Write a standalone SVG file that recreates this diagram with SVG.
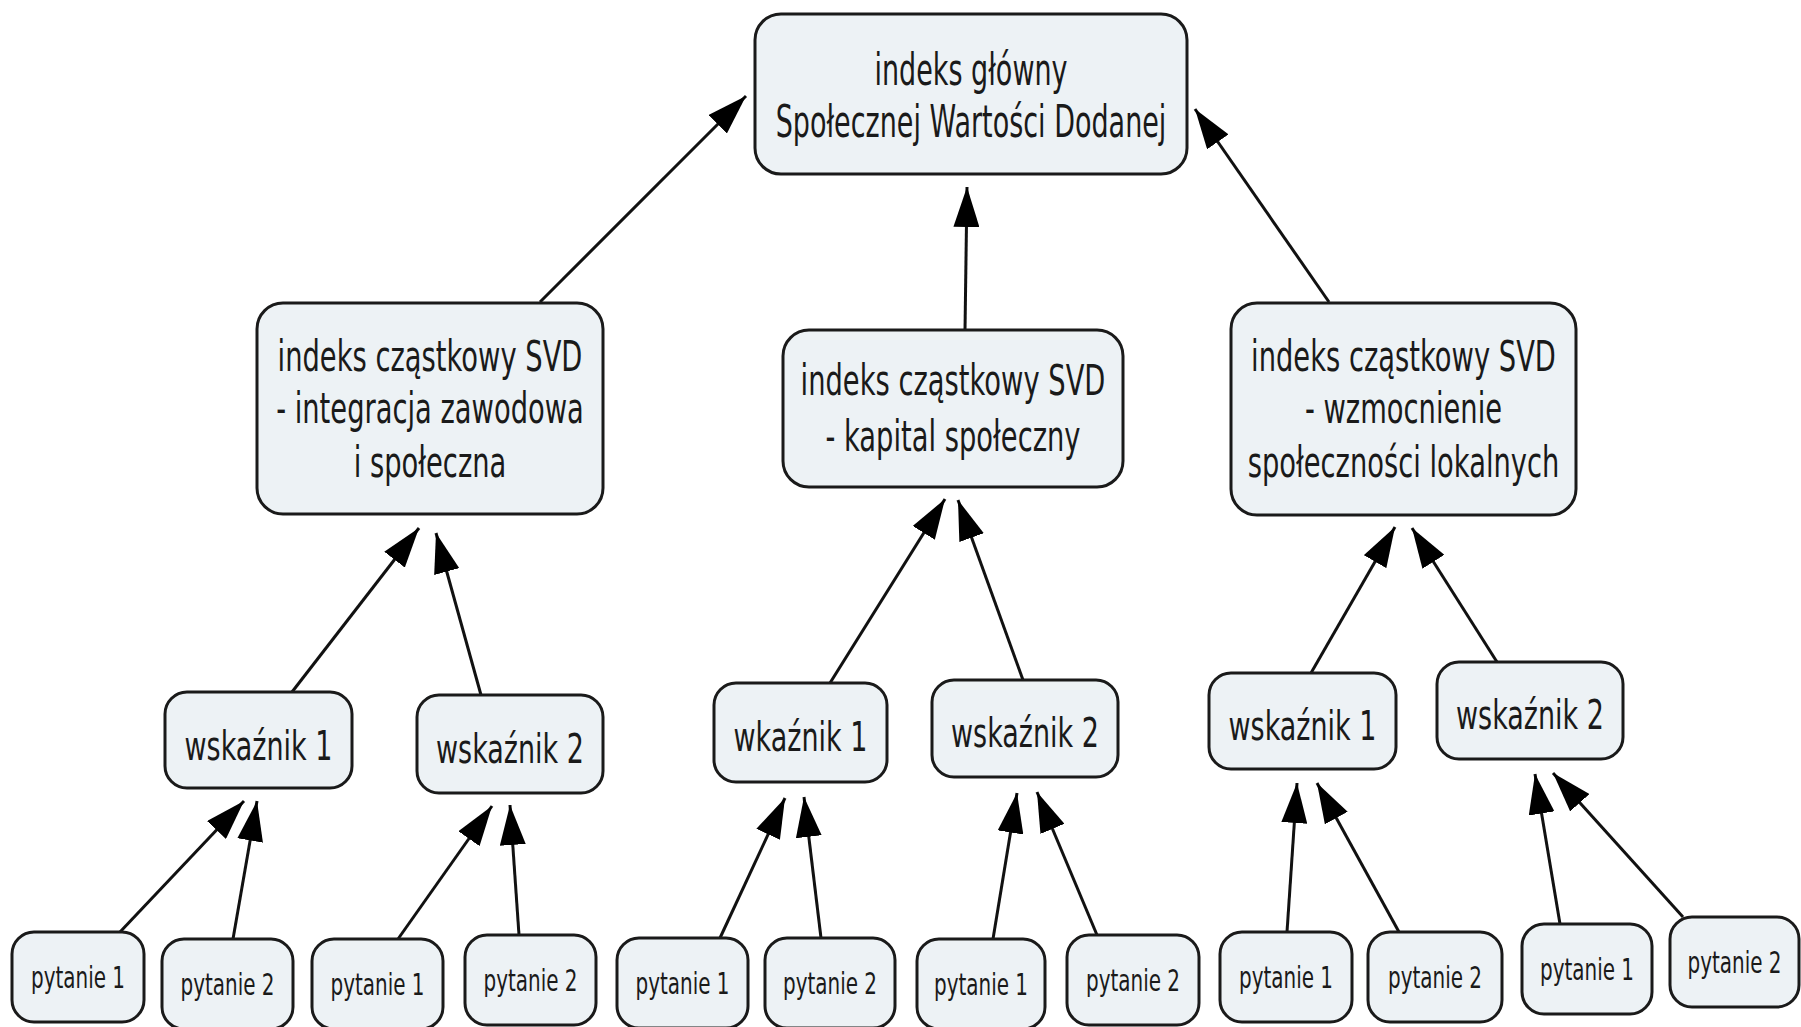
<svg xmlns="http://www.w3.org/2000/svg" width="1801" height="1027" viewBox="0 0 1801 1027">
<defs>
<style>
.box{fill:#edf2f5;stroke:#1a1a1a;stroke-width:3}
.t{font-family:"DejaVu Sans","Verdana",sans-serif;fill:#1a1a1a;text-anchor:middle}
.t40{font-size:45px}.t38{font-size:42px}.t36{font-size:40px}.t27{font-size:30px}
.c{fill:none;stroke:#111;stroke-width:3;marker-end:url(#ah)}
</style>
<marker id="ah" markerUnits="userSpaceOnUse" viewBox="0 0 40 26" refX="40" refY="13" markerWidth="40" markerHeight="26" orient="auto">
<path d="M0,0 L40,13 L0,26 Z" fill="#000"/>
</marker>
</defs>
<rect width="1801" height="1027" fill="#fff"/>

<g id="connectors">
<path class="c" d="M540,302 L746,96"/>
<path class="c" d="M965,331 L967,187"/>
<path class="c" d="M1329,302 L1195,109"/>
<path class="c" d="M292,692 L419,528"/>
<path class="c" d="M481,695 L436,533"/>
<path class="c" d="M830,683 L945,499"/>
<path class="c" d="M1023,680 L958,500"/>
<path class="c" d="M1311,673 L1395,527"/>
<path class="c" d="M1497,662 L1412,528"/>
<path class="c" d="M120,932 L244,801"/>
<path class="c" d="M233,939 L257,801"/>
<path class="c" d="M398,939 L492,806"/>
<path class="c" d="M519,935 L510,805"/>
<path class="c" d="M720,938 L785,798"/>
<path class="c" d="M821,938 L804,797"/>
<path class="c" d="M993,939 L1017,793"/>
<path class="c" d="M1097,935 L1037,792"/>
<path class="c" d="M1287,932 L1297,783"/>
<path class="c" d="M1399,932 L1317,783"/>
<path class="c" d="M1560,924 L1535,774"/>
<path class="c" d="M1683,917 L1553,773"/>
</g>

<g id="top">
<rect class="box" x="755" y="14" width="432" height="160" rx="26"/>
<g transform="translate(971,0) scale(0.6,1)"><text class="t t40" x="0" y="85">indeks główny</text><text class="t t40" x="0" y="137">Społecznej Wartości Dodanej</text></g>
</g>

<g id="mid-left">
<rect class="box" x="257" y="303" width="346" height="211" rx="26"/>
<g transform="translate(430,0) scale(0.651,1)"><text class="t t38" x="0" y="371">indeks cząstkowy SVD</text><text class="t t38" x="0" y="423">- integracja zawodowa</text><text class="t t38" x="0" y="477">i społeczna</text></g>
</g>

<g id="mid-center">
<rect class="box" x="783" y="330" width="340" height="157" rx="26"/>
<g transform="translate(953,0) scale(0.651,1)"><text class="t t38" x="0" y="395">indeks cząstkowy SVD</text><text class="t t38" x="0" y="451">- kapital społeczny</text></g>
</g>

<g id="mid-right">
<rect class="box" x="1231" y="303" width="345" height="212" rx="26"/>
<g transform="translate(1403.5,0) scale(0.651,1)"><text class="t t38" x="0" y="371">indeks cząstkowy SVD</text><text class="t t38" x="0" y="423">- wzmocnienie</text><text class="t t38" x="0" y="477">społeczności lokalnych</text></g>
</g>

<g id="w-l1"><rect class="box" x="165" y="692" width="187" height="96" rx="22"/><g transform="translate(258.5,0) scale(0.675,1)"><text class="t t36" x="0" y="760">wskaźnik 1</text></g></g>
<g id="w-l2"><rect class="box" x="417" y="695" width="186" height="98" rx="22"/><g transform="translate(510,0) scale(0.675,1)"><text class="t t36" x="0" y="763">wskaźnik 2</text></g></g>
<g id="w-c1"><rect class="box" x="714" y="683" width="173" height="99" rx="22"/><g transform="translate(800.5,0) scale(0.675,1)"><text class="t t36" x="0" y="751">wkaźnik 1</text></g></g>
<g id="w-c2"><rect class="box" x="932" y="680" width="186" height="97" rx="22"/><g transform="translate(1025,0) scale(0.675,1)"><text class="t t36" x="0" y="747">wskaźnik 2</text></g></g>
<g id="w-r1"><rect class="box" x="1209" y="673" width="187" height="96" rx="22"/><g transform="translate(1302.5,0) scale(0.675,1)"><text class="t t36" x="0" y="740">wskaźnik 1</text></g></g>
<g id="w-r2"><rect class="box" x="1437" y="662" width="186" height="97" rx="22"/><g transform="translate(1530,0) scale(0.675,1)"><text class="t t36" x="0" y="729">wskaźnik 2</text></g></g>

<g id="p1"><rect class="box" x="12" y="932" width="132" height="90" rx="22"/><g transform="translate(78,0) scale(0.666,1)"><text class="t t27" x="0" y="988">pytanie 1</text></g></g>
<g id="p2"><rect class="box" x="162" y="939" width="131" height="90" rx="22"/><g transform="translate(227.5,0) scale(0.666,1)"><text class="t t27" x="0" y="995">pytanie 2</text></g></g>
<g id="p3"><rect class="box" x="312" y="939" width="131" height="90" rx="22"/><g transform="translate(377.5,0) scale(0.666,1)"><text class="t t27" x="0" y="995">pytanie 1</text></g></g>
<g id="p4"><rect class="box" x="465" y="935" width="131" height="90" rx="22"/><g transform="translate(530.5,0) scale(0.666,1)"><text class="t t27" x="0" y="991">pytanie 2</text></g></g>
<g id="p5"><rect class="box" x="617" y="938" width="131" height="90" rx="22"/><g transform="translate(682.5,0) scale(0.666,1)"><text class="t t27" x="0" y="994">pytanie 1</text></g></g>
<g id="p6"><rect class="box" x="765" y="938" width="130" height="90" rx="22"/><g transform="translate(830,0) scale(0.666,1)"><text class="t t27" x="0" y="994">pytanie 2</text></g></g>
<g id="p7"><rect class="box" x="917" y="939" width="128" height="90" rx="22"/><g transform="translate(981,0) scale(0.666,1)"><text class="t t27" x="0" y="995">pytanie 1</text></g></g>
<g id="p8"><rect class="box" x="1067" y="935" width="132" height="90" rx="22"/><g transform="translate(1133,0) scale(0.666,1)"><text class="t t27" x="0" y="991">pytanie 2</text></g></g>
<g id="p9"><rect class="box" x="1220" y="932" width="132" height="90" rx="22"/><g transform="translate(1286,0) scale(0.666,1)"><text class="t t27" x="0" y="988">pytanie 1</text></g></g>
<g id="p10"><rect class="box" x="1368" y="932" width="134" height="90" rx="22"/><g transform="translate(1435,0) scale(0.666,1)"><text class="t t27" x="0" y="988">pytanie 2</text></g></g>
<g id="p11"><rect class="box" x="1522" y="924" width="130" height="90" rx="22"/><g transform="translate(1587,0) scale(0.666,1)"><text class="t t27" x="0" y="980">pytanie 1</text></g></g>
<g id="p12"><rect class="box" x="1670" y="917" width="129" height="90" rx="22"/><g transform="translate(1734.5,0) scale(0.666,1)"><text class="t t27" x="0" y="973">pytanie 2</text></g></g>
</svg>
